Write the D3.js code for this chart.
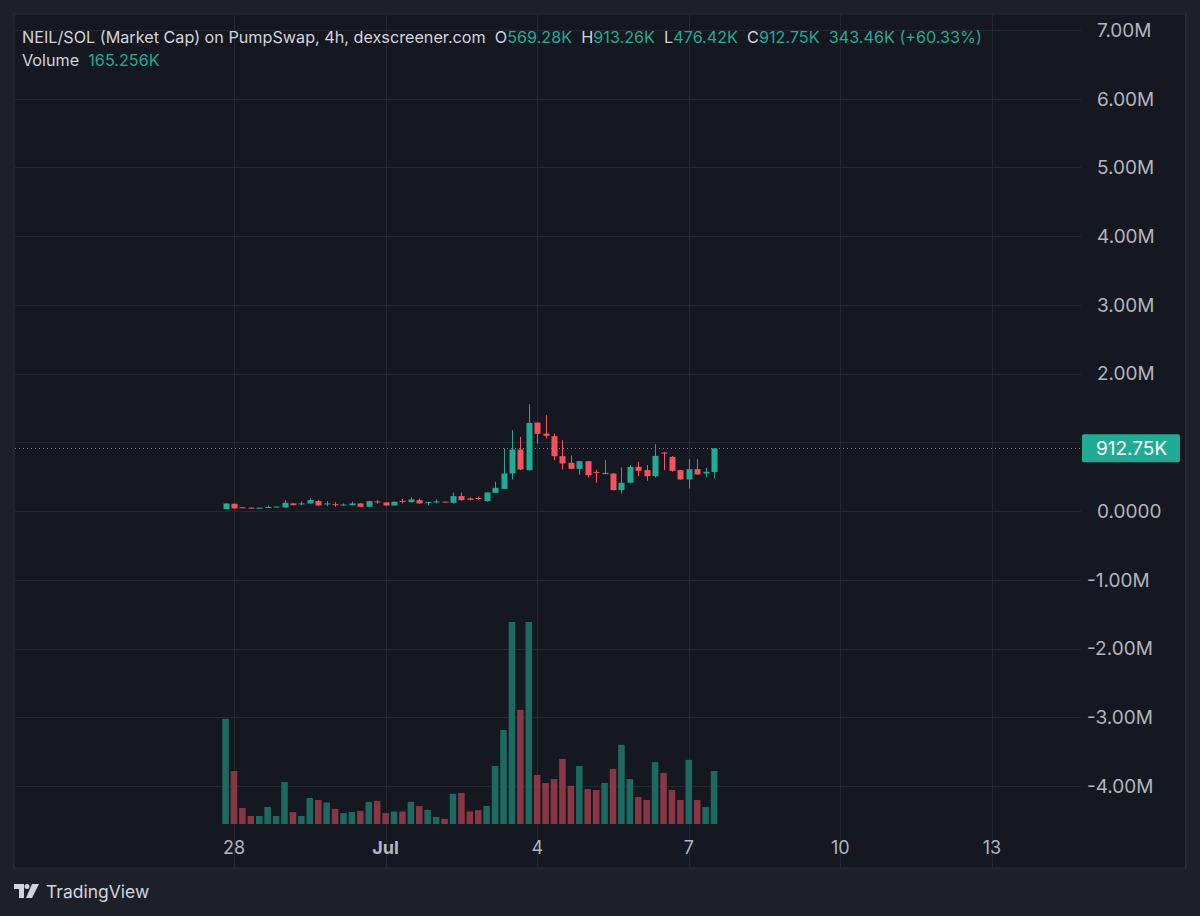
<!DOCTYPE html>
<html>
<head>
<meta charset="utf-8">
<script src="https://cdn.jsdelivr.net/npm/d3@7"></script>
<style>
  html, body { margin: 0; padding: 0; background: #1e2029; }
  svg { display: block; font-family: Inter, Roboto, "Noto Sans", sans-serif; }
</style>
</head>
<body>
<div id="wrapper"></div>
<script>
// 4h candles, values in K (market cap)
const startTime = Date.UTC(2025, 5, 27, 20)
const opens  = [29,107,55,50,47,55,62,53,111,105,111,145,105,100,90,87,111,63,140,126,82,148,131,160,125,138,138,121,218,185,190,145,266,324,547,896,596,1288,1128,1090,799,702,615,726,571,538,547,305,412,644,596,508,852,789,596,460,610,547,569.28]
const highs  = [111,107,58,55,52,80,70,160,115,140,184,160,145,130,110,135,115,150,160,130,140,180,198,180,135,170,140,271,271,200,210,271,426,910,1177,1080,1555,1288,1395,1128,1032,809,726,726,605,741,550,634,668,717,668,973,860,800,600,755,755,630,913.26]
const lows   = [29,39,48,42,44,52,60,50,85,87,108,75,72,63,75,85,60,60,107,78,80,112,125,108,82,111,130,111,150,155,160,140,262,320,460,596,586,983,1056,741,605,610,528,489,412,538,300,257,402,508,441,489,596,575,455,329,528,489,476.42]
const closes = [111,39,50,47,49,60,66,121,87,112,160,82,112,95,95,111,63,145,133,82,136,143,170,111,131,141,134,218,160,165,182,271,339,547,896,605,1283,1124,1095,799,693,615,726,523,557,557,305,412,644,586,508,804,838,586,460,610,533,571,912.75]
const volumes = [328,165,50,25,25,53,25,131,37,25,81,75,67,47,34,37,41,69,72,34,39,39,69,56,44,22,16,94,97,39,43,56,181,293,700,356,720,153,128,140,203,119,181,109,106,128,172,247,140,84,75,193,159,106,75,200,75,53,165.256]

const priceTicks = [7000,6000,5000,4000,3000,2000,1000,0,-1000,-2000,-3000,-4000]
const priceTickLabels = ["7.00M","6.00M","5.00M","4.00M","3.00M","2.00M","1.00M","0.0000","-1.00M","-2.00M","-3.00M","-4.00M"]
const timeTicks = [Date.UTC(2025,5,28), Date.UTC(2025,6,1), Date.UTC(2025,6,4), Date.UTC(2025,6,7), Date.UTC(2025,6,10), Date.UTC(2025,6,13)]
const timeTickLabels = ["28","Jul","4","7","10","13"]

const header = [
  {t: "NEIL/SOL (Market Cap) on PumpSwap, 4h, dexscreener.com  O", c: "#d1d4dc"},
  {t: "569.28K", c: "#22ab94"},
  {t: "  H", c: "#d1d4dc"},
  {t: "913.26K", c: "#22ab94"},
  {t: "  L", c: "#d1d4dc"},
  {t: "476.42K", c: "#22ab94"},
  {t: "  C", c: "#d1d4dc"},
  {t: "912.75K", c: "#22ab94"},
  {t: "  343.46K (+60.33%)", c: "#22ab94"},
]
const lastPrice = 912.75
const lastVolume = "165.256K"

const data = opens.map((o, i) => ({
  t: startTime + i * 4 * 3600 * 1000,
  o: o, h: highs[i], l: lows[i], c: closes[i], v: volumes[i],
}))

const width = 1200
const height = 916
const pane = {left: 14, top: 14, right: 1186, bottom: 868, plotRight: 1081}

const green = "#22ab94"
const red = "#f7525f"
const greenVol = "#1d6b60"
const redVol = "#8a3745"
const grid = "#252833"

const svg = d3.select("#wrapper")
  .append("svg")
  .attr("width", width)
  .attr("height", height)

svg.append("rect")
  .attr("width", width).attr("height", height)
  .attr("fill", "#1e2029")

svg.append("rect")
  .attr("x", pane.left).attr("y", pane.top)
  .attr("width", pane.right - pane.left).attr("height", pane.bottom - pane.top)
  .attr("fill", "#151821")
  .attr("stroke", "#2a2d38")

const xScale = d3.scaleUtc()
  .domain([Date.UTC(2025,5,28), Date.UTC(2025,6,13)])
  .range([234, 992])

const yScale = d3.scaleLinear()
  .domain([-4000, 7000])
  .range([786, 30])

const vScale = d3.scaleLinear()
  .domain([0, 630])
  .range([824, 622])
  .clamp(true)

// grid
svg.append("g")
  .selectAll("line")
  .data(priceTicks)
  .join("line")
  .attr("x1", pane.left + 1).attr("x2", pane.plotRight)
  .attr("y1", d => Math.round(yScale(d)) + 0.5)
  .attr("y2", d => Math.round(yScale(d)) + 0.5)
  .attr("stroke", grid)

svg.append("g")
  .selectAll("line")
  .data(timeTicks)
  .join("line")
  .attr("x1", d => Math.round(xScale(d)) + 0.5)
  .attr("x2", d => Math.round(xScale(d)) + 0.5)
  .attr("y1", pane.top + 1).attr("y2", pane.bottom - 1)
  .attr("stroke", grid)

// axis separator
svg.append("line")
  .attr("x1", pane.right - 0.5).attr("x2", pane.right - 0.5)
  .attr("y1", pane.top).attr("y2", pane.bottom)
  .attr("stroke", "#2a2d38")

// volume
const vw = 6.5
svg.append("g")
  .selectAll("rect")
  .data(data)
  .join("rect")
  .attr("x", d => xScale(d.t) - vw / 2)
  .attr("y", d => vScale(d.v))
  .attr("width", vw)
  .attr("height", d => vScale(0) - vScale(d.v))
  .attr("fill", d => d.c >= d.o ? greenVol : redVol)

// candles
const cw = 6
const candles = svg.append("g")
  .selectAll("g")
  .data(data)
  .join("g")

candles.append("line")
  .attr("x1", d => Math.round(xScale(d.t)) + 0.5)
  .attr("x2", d => Math.round(xScale(d.t)) + 0.5)
  .attr("y1", d => yScale(d.h))
  .attr("y2", d => yScale(d.l))
  .attr("stroke", d => d.c >= d.o ? green : red)
  .attr("stroke-width", 1)

candles.append("rect")
  .attr("x", d => Math.round(xScale(d.t)) + 0.5 - cw / 2)
  .attr("y", d => yScale(Math.max(d.o, d.c)))
  .attr("width", cw)
  .attr("height", d => Math.max(1, Math.abs(yScale(d.o) - yScale(d.c))))
  .attr("fill", d => d.c >= d.o ? green : red)

// last price line
svg.append("line")
  .attr("x1", pane.left + 1).attr("x2", pane.plotRight + 2)
  .attr("y1", Math.round(yScale(lastPrice)) + 0.5)
  .attr("y2", Math.round(yScale(lastPrice)) + 0.5)
  .attr("stroke", green)
  .attr("stroke-dasharray", "1,3")

// price axis labels (the one under the last price tag is hidden, as in the chart)
const tagY = yScale(lastPrice)
svg.append("g")
  .selectAll("text")
  .data(priceTicks.filter(d => Math.abs(yScale(d) - tagY) > 20))
  .join("text")
  .attr("x", d => d < 0 ? 1087 : 1097)
  .attr("y", d => yScale(d))
  .attr("dy", "0.36em")
  .attr("fill", "#b2b5be")
  .attr("font-size", 19)
  .text(d => priceTickLabels[priceTicks.indexOf(d)])

// last price tag
svg.append("rect")
  .attr("x", 1082).attr("y", tagY - 14)
  .attr("width", 98).attr("height", 28)
  .attr("rx", 2)
  .attr("fill", green)
svg.append("text")
  .attr("x", 1096).attr("y", tagY)
  .attr("dy", "0.36em")
  .attr("fill", "#ffffff")
  .attr("font-size", 19)
  .text(d3.format(".2f")(lastPrice) + "K")

// time axis labels
svg.append("g")
  .selectAll("text")
  .data(timeTicks)
  .join("text")
  .attr("x", d => xScale(d))
  .attr("y", 848)
  .attr("dy", "0.36em")
  .attr("text-anchor", "middle")
  .attr("fill", "#b2b5be")
  .attr("font-size", 18)
  .attr("font-weight", (d, i) => timeTickLabels[i] === "Jul" ? "bold" : "normal")
  .text((d, i) => timeTickLabels[i])

// legend
const legend = svg.append("text")
  .attr("x", 22).attr("y", 43)
  .attr("font-size", 16.2)
  .attr("xml:space", "preserve")
legend.selectAll("tspan")
  .data(header)
  .join("tspan")
  .attr("fill", d => d.c)
  .text(d => d.t)

const vol = svg.append("text")
  .attr("x", 22).attr("y", 66)
  .attr("font-size", 16.2)
  .attr("xml:space", "preserve")
vol.append("tspan").attr("fill", "#d1d4dc").text("Volume  ")
vol.append("tspan").attr("fill", green).text(lastVolume)

// TradingView mark
const logo = svg.append("g").attr("transform", "translate(14,884)").attr("fill", "#d1d4dc")
logo.append("path").attr("d", "M0 0 H10 V14 H5 V5 H0 Z")
logo.append("circle").attr("cx", 13).attr("cy", 2.5).attr("r", 2.5)
logo.append("path").attr("d", "M18 0 H25 L18 14 H12 Z")
svg.append("text")
  .attr("x", 46).attr("y", 898)
  .attr("font-size", 17.5)
  .attr("fill", "#d1d4dc")
  .text("TradingView")
</script>
</body>
</html>
